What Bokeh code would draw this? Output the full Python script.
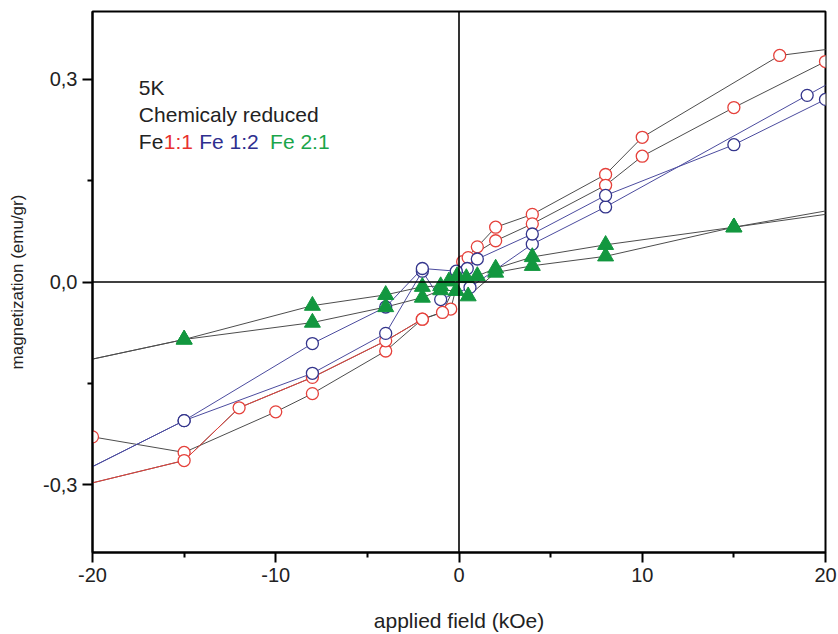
from bokeh.plotting import figure
from bokeh.models import FixedTicker, CustomJSTickFormatter, Span, Label, Range1d
from bokeh.embed import file_html
from bokeh.resources import INLINE
import numpy as np

# ---------------- data ----------------
# Fe 1:1 (red open circles), two branches of the loop
fe11_a_x = [25, 17.5, 10, 8, 4, 2, 1, 0.2, -0.45, -2, -4, -8, -10, -15, -20]
fe11_a_y = [0.361, 0.335, 0.214, 0.159, 0.100, 0.081, 0.052, 0.030, -0.040, -0.055, -0.102, -0.165, -0.192, -0.252, -0.229]
fe11_b_x = [20, 15, 10, 8, 4, 2, 0.5, -0.9, -2, -4, -8, -12, -15, -25]
fe11_b_y = [0.326, 0.258, 0.186, 0.143, 0.086, 0.061, 0.036, -0.045, -0.055, -0.087, -0.141, -0.186, -0.264, -0.330]

# Fe 1:2 (blue open circles)
fe12_a_x = [25, 19, 8, 4, 0.6, -1, -2, -4, -8, -15, -25]
fe12_a_y = [0.366, 0.276, 0.111, 0.056, -0.008, -0.026, 0.016, -0.076, -0.135, -0.205, -0.341]
fe12_b_x = [20, 15, 8, 4, 1, 0.45, -0.15, -2, -4, -8, -15, -25]
fe12_b_y = [0.270, 0.203, 0.128, 0.071, 0.034, 0.020, 0.016, 0.020, -0.037, -0.091, -0.205, -0.341]

# Fe 2:1 (green filled triangles)
fe21_a_x = [25, 15, 8, 4, 2, 1, 0.4, -0.1, -0.55, -1, -2, -4, -8, -15, -25]
fe21_a_y = [0.129, 0.081, 0.055, 0.037, 0.020, 0.009, 0.006, 0.009, 0.001, -0.006, -0.007, -0.019, -0.035, -0.085, -0.143]
fe21_b_x = [25, 15, 8, 4, 2, 0.5, -0.15, -1, -2, -4, -8, -15, -25]
fe21_b_y = [0.119, 0.081, 0.038, 0.024, 0.014, -0.021, -0.013, -0.012, -0.023, -0.037, -0.060, -0.085, -0.143]

x_major = [-20, -10, 0, 10, 20]
x_minor = [-15, -5, 5, 15]
y_major = [-0.3, 0.0, 0.3]
y_minor = [-0.15, 0.15]

# ---------------- styles ----------------
RED = "#e5413b"
BLUE = "#34358c"
BLUE_LINE = "#4b4b9e"
GREEN = "#12973f"
GRAY = "#4d4d4d"
FONT = "Liberation Sans"

p = figure(width=838, height=634, x_range=Range1d(-20, 20), y_range=Range1d(-0.4, 0.4),
           output_backend="svg", toolbar_location=None,
           min_border_left=92, min_border_right=13, min_border_top=11, min_border_bottom=81)
p.background_fill_color = "white"
p.border_fill_color = "white"
p.outline_line_color = "black"
p.outline_line_width = 2
p.xgrid.visible = False
p.ygrid.visible = False

# axes
p.xaxis.ticker = FixedTicker(ticks=x_major, minor_ticks=x_minor)
p.yaxis.ticker = FixedTicker(ticks=y_major, minor_ticks=y_minor)
p.yaxis.formatter = CustomJSTickFormatter(code="return tick.toFixed(1).replace('.', ',');")
p.xaxis.formatter = CustomJSTickFormatter(code="return tick.toFixed(0);")
for ax in (p.xaxis, p.yaxis):
    ax.axis_line_color = "black"
    ax.axis_line_width = 2
    ax.major_tick_line_color = "black"
    ax.major_tick_line_width = 2
    ax.minor_tick_line_color = "black"
    ax.minor_tick_line_width = 2
    ax.major_tick_in = 0
    ax.major_tick_out = 10
    ax.minor_tick_in = 0
    ax.minor_tick_out = 5
    ax.major_label_text_font = FONT
    ax.major_label_text_font_size = "20px"
    ax.major_label_text_color = "#222222"
    ax.axis_label_text_font = FONT
    ax.axis_label_text_font_style = "normal"
    ax.axis_label_text_color = "#222222"
p.xaxis.axis_label = "applied field (kOe)"
p.xaxis.axis_label_text_font_size = "21px"
p.xaxis.axis_label_standoff = 24
p.yaxis.axis_label = "magnetization (emu/gr)"
p.yaxis.axis_label_text_font_size = "17px"
p.yaxis.axis_label_standoff = 13

# zero lines
p.add_layout(Span(location=0, dimension="height", line_color="black", line_width=1.6))
p.add_layout(Span(location=0, dimension="width", line_color="black", line_width=1.6))

# connecting lines
p.line(fe11_a_x, fe11_a_y, line_color=GRAY, line_width=1)
p.line(fe11_b_x, fe11_b_y, line_color=GRAY, line_width=1)
bx = np.array(fe11_b_x); by = np.array(fe11_b_y)
m = bx <= -2
p.line(bx[m], by[m], line_color=RED, line_width=1)
p.line(fe12_a_x, fe12_a_y, line_color=BLUE_LINE, line_width=1)
p.line(fe12_b_x, fe12_b_y, line_color=BLUE_LINE, line_width=1)
p.line(fe21_a_x, fe21_a_y, line_color=GRAY, line_width=1)
p.line(fe21_b_x, fe21_b_y, line_color=GRAY, line_width=1)

# markers
for xs, ys in ((fe11_a_x, fe11_a_y), (fe11_b_x, fe11_b_y)):
    p.scatter(xs, ys, marker="circle", size=12, fill_color="white", line_color=RED, line_width=1.3)
for xs, ys in ((fe12_a_x, fe12_a_y), (fe12_b_x, fe12_b_y)):
    p.scatter(xs, ys, marker="circle", size=12, fill_color="white", line_color=BLUE, line_width=1.3)
for xs, ys in ((fe21_a_x, fe21_a_y), (fe21_b_x, fe21_b_y)):
    p.scatter(xs, ys, marker="triangle", size=16, fill_color=GREEN, line_color=GREEN, line_width=1)

# annotation text
def lab(x, y, t, c):
    p.add_layout(Label(x=x, y=y, text=t, text_color=c, text_font=FONT,
                       text_font_size="21px", text_baseline="alphabetic", text_align="left"))

lab(-17.47, 0.287, "5K", "#222222")
lab(-17.47, 0.248, "Chemicaly reduced", "#222222")
lab(-17.47, 0.208, "Fe", "#222222")
lab(-16.11, 0.208, "1:1", "#e8312f")
lab(-14.18, 0.208, "Fe 1:2", "#2e2f8f")
lab(-10.31, 0.208, "Fe 2:1", "#1aa54a")

open("out.html", "w").write(file_html(p, INLINE))
